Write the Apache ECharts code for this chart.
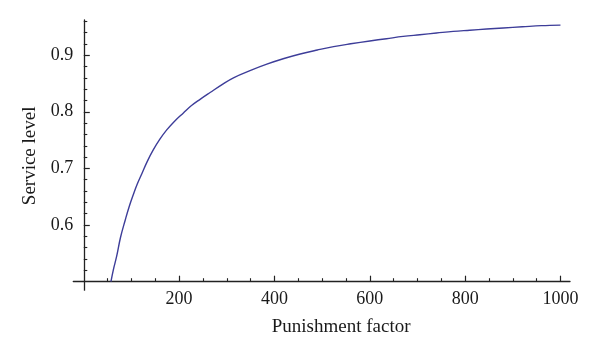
<!DOCTYPE html>
<html>
<head>
<meta charset="utf-8">
<script src="https://cdn.jsdelivr.net/npm/echarts@6/dist/echarts.min.js"></script>
<style>html,body{margin:0;padding:0;background:#fff}#c{width:600px;height:362px}</style>
</head>
<body>
<div id="c"></div>
<script>
// Punishment factor values
const factor = [57, 62, 69, 77, 87, 95, 104, 112, 122, 133, 146, 160, 174, 190, 209, 226, 244, 265, 290, 314, 350, 384, 420, 454, 490, 524, 560, 600, 635, 670, 705, 740, 775, 810, 845, 880, 920, 960, 1000];
// Service level values
const service = [0.500, 0.521, 0.545, 0.578, 0.609, 0.632, 0.654, 0.672, 0.691, 0.712, 0.733, 0.752, 0.768, 0.783, 0.798, 0.811, 0.822, 0.834, 0.848, 0.860, 0.873, 0.884, 0.894, 0.902, 0.909, 0.915, 0.920, 0.925, 0.929, 0.933, 0.936, 0.939, 0.942, 0.944, 0.946, 0.948, 0.950, 0.952, 0.953];

const xMajorLabels = [200, 400, 600, 800, 1000];
const xMinorTicks = [50, 100, 150, 250, 300, 350, 450, 500, 550, 650, 700, 750, 850, 900, 950];
const yMajorLabels = [0.6, 0.7, 0.8, 0.9];
const yMinorTicks = [0.52, 0.54, 0.56, 0.58, 0.62, 0.64, 0.66, 0.68, 0.72, 0.74, 0.76, 0.78, 0.82, 0.84, 0.86, 0.88, 0.92, 0.94, 0.96];

const axisColor = '#222';
const font = 'Liberation Serif';
const points = factor.map((f, i) => [f, service[i]]);

const chart = echarts.init(document.getElementById('c'), null, {renderer: 'canvas'});
const baseX = {
  type: 'value', min: -22, max: 1020, position: 'bottom',
  splitLine: {show: false}
};
const baseY = {
  type: 'value', min: 0.5, max: 0.962, position: 'left',
  splitLine: {show: false}
};
chart.setOption({
  animation: false,
  grid: {left: 73.3, right: 30, top: 20, bottom: 80.3},
  xAxis: [
    Object.assign({}, baseX, {
      name: 'Punishment factor', nameLocation: 'middle', nameGap: 36,
      nameTextStyle: {fontFamily: font, fontSize: 19, color: '#1a1a1a', padding: [0, 0, 0, 39]},
      axisLine: {show: true, lineStyle: {color: axisColor, width: 1.3}},
      axisTick: {show: true, inside: true, length: 6, customValues: xMajorLabels, lineStyle: {color: axisColor, width: 1.2}},
      axisLabel: {show: true, customValues: xMajorLabels, margin: 8.5, fontFamily: font, fontSize: 18, color: '#1a1a1a', formatter: v => String(v)}
    }),
    Object.assign({}, baseX, {
      axisLine: {show: false},
      axisTick: {show: true, inside: true, length: 3.5, customValues: xMinorTicks, lineStyle: {color: axisColor, width: 1.1}},
      axisLabel: {show: false}
    }),
    Object.assign({}, baseX, {
      axisLine: {show: false},
      axisTick: {show: true, inside: false, length: 9, customValues: [0], lineStyle: {color: axisColor, width: 1.3}},
      axisLabel: {show: false}
    })
  ],
  yAxis: [
    Object.assign({}, baseY, {
      name: 'Service level', nameLocation: 'middle', nameGap: 34, nameMoveOverlap: false,
      nameTextStyle: {fontFamily: font, fontSize: 19, color: '#1a1a1a', padding: [0, 10, 0, 0]},
      axisLine: {show: true, onZero: true, onZeroAxisIndex: 0, lineStyle: {color: axisColor, width: 1.3}},
      axisTick: {show: true, inside: true, length: 6, customValues: yMajorLabels, lineStyle: {color: axisColor, width: 1.2}},
      axisLabel: {show: true, customValues: yMajorLabels, margin: 0, fontFamily: font, fontSize: 18, color: '#1a1a1a', formatter: v => v.toFixed(1)}
    }),
    Object.assign({}, baseY, {
      axisLine: {show: false, onZero: true, onZeroAxisIndex: 0},
      axisTick: {show: true, inside: true, length: 3.5, customValues: yMinorTicks, lineStyle: {color: axisColor, width: 1.1}},
      axisLabel: {show: false}
    })
  ],
  series: [{
    type: 'line', xAxisIndex: 0, yAxisIndex: 0,
    data: points, showSymbol: false, smooth: 0.4,
    lineStyle: {color: '#3d3d99', width: 1.4},
    clip: false
  }]
});
</script>
</body>
</html>
